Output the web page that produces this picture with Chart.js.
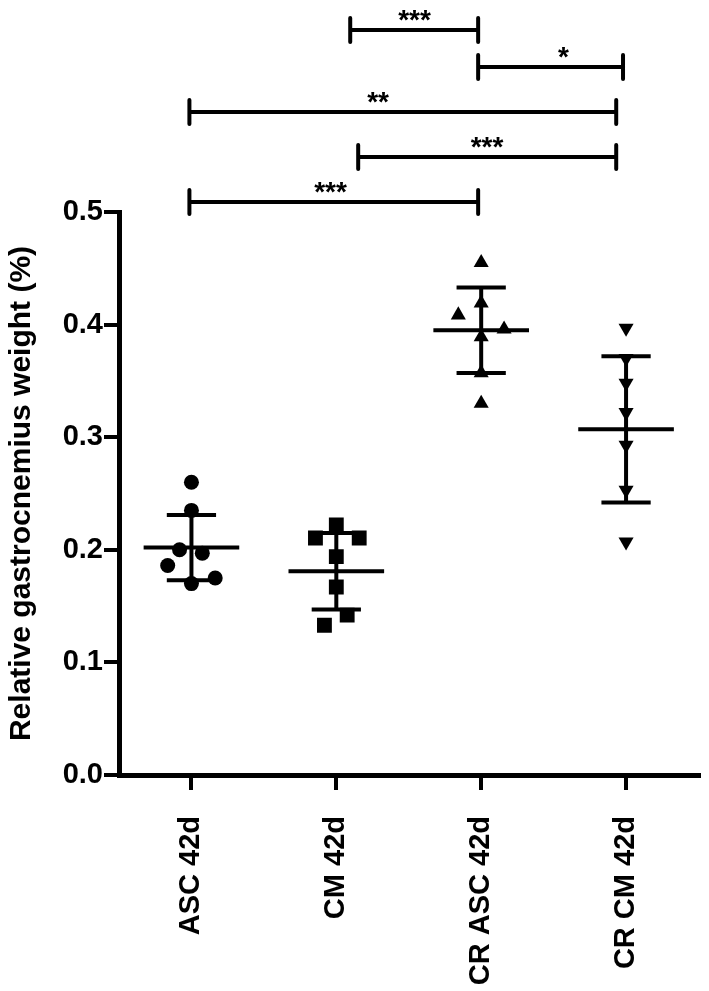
<!DOCTYPE html>
<html lang="en">

<head>
  <meta charset="UTF-8" />
  <title>Relative gastrocnemius weight</title>
  <script src="https://cdn.jsdelivr.net/npm/chart.js"></script>
  <style>
    body { margin: 0; background: #fff; }
    #wrap { width: 709px; height: 991px; position: relative; }
  </style>
</head>

<body>
  <div id="wrap"><canvas id="myChart01"></canvas></div>

  <script>
    // groups on the x axis
    const groups = ["ASC 42d", "CM 42d", "CR ASC 42d", "CR CM 42d"];

    // values of every animal
    const ascVals = [0.260, 0.235, 0.200, 0.197, 0.186, 0.175, 0.170];
    const cmVals = [0.222, 0.2105, 0.2105, 0.194, 0.167, 0.142, 0.133];
    const crAscVals = [0.455, 0.419, 0.4085, 0.396, 0.389, 0.357, 0.330];
    const crCmVals = [0.397, 0.370, 0.348, 0.322, 0.293, 0.253, 0.207];

    // sideways spread of the dots (in group widths), as in the picture
    const ascJitter = [0, 0, -0.082, 0.075, -0.164, 0.164, 0];
    const cmJitter = [0, -0.144, 0.158, 0, 0, 0.075, -0.082];
    const crAscJitter = [0, 0, -0.158, 0.158, 0, 0, 0];
    const crCmJitter = [0, 0, 0, 0, 0, 0, 0];

    // mean and SD lines
    const meanVals = [0.202, 0.181, 0.395, 0.307];
    const sdVals = [0.029, 0.034, 0.038, 0.065];

    // y ticks
    const yTicks = [0.0, 0.1, 0.2, 0.3, 0.4, 0.5];

    // significance brackets (x in group units)
    const bracketFrom = [1.096, 1.979, -0.014, 1.151, -0.014];
    const bracketTo = [1.979, 2.979, 2.932, 2.932, 1.979];
    const bracketText = ["***", "*", "**", "***", "***"];
    const bracketTextX = [1.54, 2.568, 1.288, 2.04, 0.96];

    const FONT = "'Liberation Sans', Arial, Helvetica, sans-serif";

    function toPoints(vals, jit, g) {
      return vals.map((v, i) => ({ x: g + jit[i], y: v }));
    }

    // mean / SD drawn through the scales
    const meanSdPlugin = {
      id: "meanSd",
      afterDatasetsDraw(chart) {
        const ctx = chart.ctx;
        const xs = chart.scales.x;
        const ys = chart.scales.y;
        ctx.save();
        ctx.strokeStyle = "#000";
        ctx.lineWidth = 4;
        ctx.lineCap = "butt";
        meanVals.forEach((m, i) => {
          const yM = ys.getPixelForValue(m);
          const yHi = ys.getPixelForValue(m + sdVals[i]);
          const yLo = ys.getPixelForValue(m - sdVals[i]);
          ctx.beginPath();
          ctx.moveTo(xs.getPixelForValue(i - 0.33), yM);
          ctx.lineTo(xs.getPixelForValue(i + 0.33), yM);
          ctx.moveTo(xs.getPixelForValue(i), yHi);
          ctx.lineTo(xs.getPixelForValue(i), yLo);
          ctx.moveTo(xs.getPixelForValue(i - 0.17), yHi);
          ctx.lineTo(xs.getPixelForValue(i + 0.17), yHi);
          ctx.moveTo(xs.getPixelForValue(i - 0.17), yLo);
          ctx.lineTo(xs.getPixelForValue(i + 0.17), yLo);
          ctx.stroke();
        });
        ctx.restore();
      },
    };

    // brackets above the plot
    const bracketLevels = [30, 67, 112, 157, 202];
    const bracketPlugin = {
      id: "brackets",
      afterDraw(chart) {
        const ctx = chart.ctx;
        const xs = chart.scales.x;
        ctx.save();
        ctx.strokeStyle = "#000";
        ctx.fillStyle = "#000";
        ctx.lineWidth = 4;
        ctx.lineCap = "round";
        ctx.font = "bold 28px " + FONT;
        ctx.textAlign = "center";
        ctx.textBaseline = "alphabetic";
        bracketFrom.forEach((f, i) => {
          const x1 = xs.getPixelForValue(f);
          const x2 = xs.getPixelForValue(bracketTo[i]);
          const y = bracketLevels[i];
          ctx.beginPath();
          ctx.moveTo(x1, y);
          ctx.lineTo(x2, y);
          ctx.moveTo(x1, y - 12);
          ctx.lineTo(x1, y + 12);
          ctx.moveTo(x2, y - 12);
          ctx.lineTo(x2, y + 12);
          ctx.stroke();
          ctx.fillText(bracketText[i], xs.getPixelForValue(bracketTextX[i]), y - 1);
        });
        ctx.restore();
      },
    };

    const ctx01 = document.getElementById("myChart01");
    const mychart01 = new Chart(ctx01, {
      type: "scatter",
      data: {
        datasets: [
          { label: groups[0], data: toPoints(ascVals, ascJitter, 0), pointStyle: "circle", pointRadius: 7.5 },
          { label: groups[1], data: toPoints(cmVals, cmJitter, 1), pointStyle: "rect", pointRadius: 10.5 },
          { label: groups[2], data: toPoints(crAscVals, crAscJitter, 2), pointStyle: "triangle", pointRadius: 8.7 },
          { label: groups[3], data: toPoints(crCmVals, crCmJitter, 3), pointStyle: "triangle", pointRadius: 8.7, pointRotation: 180 },
        ].map((d) => Object.assign(d, {
          backgroundColor: "#000",
          borderColor: "#000",
          borderWidth: 0,
          pointHoverRadius: d.pointRadius,
        })),
      },
      options: {
        responsive: true,
        maintainAspectRatio: false,
        animation: false,
        events: [],
        layout: { padding: { top: 212, right: 6, left: 0, bottom: 0 } },
        plugins: {
          legend: { display: false },
          tooltip: { enabled: false },
        },
        scales: {
          x: {
            type: "linear",
            min: -0.5,
            max: 3.5,
            afterBuildTicks: (s) => {
              s.ticks = groups.map((g, i) => ({ value: i }));
            },
            afterFit: (s) => {
              s.height = 216;
            },
            grid: { drawOnChartArea: false, tickLength: 15, lineWidth: 4, color: "#000" },
            border: { display: true, width: 5, color: "#000" },
            ticks: {
              minRotation: 90,
              maxRotation: 90,
              padding: 26,
              color: "#000",
              font: { family: FONT, size: 29, weight: "bold" },
              callback: (v) => groups[v],
            },
          },
          y: {
            min: 0,
            max: 0.5,
            afterBuildTicks: (s) => {
              s.ticks = yTicks.map((v) => ({ value: v }));
            },
            afterFit: (s) => {
              s.width = 119;
            },
            grid: { drawOnChartArea: false, tickLength: 15, lineWidth: 4, color: "#000" },
            border: { display: true, width: 5, color: "#000" },
            ticks: {
              padding: 1,
              color: "#000",
              font: { family: FONT, size: 29, weight: "bold" },
              callback: (v) => v.toFixed(1),
            },
            title: {
              display: true,
              text: "Relative gastrocnemius weight (%)",
              color: "#000",
              padding: { top: 4, bottom: 4 },
              font: { family: FONT, size: 30, weight: "bold" },
            },
          },
        },
      },
      plugins: [meanSdPlugin, bracketPlugin],
    });
  </script>
</body>

</html>
